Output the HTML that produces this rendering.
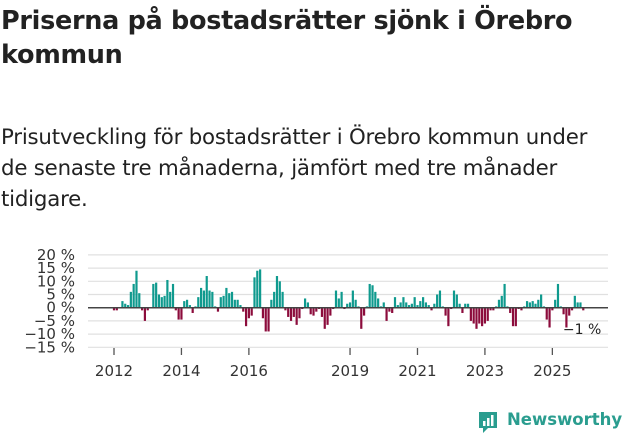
<!DOCTYPE html>
<html><head><meta charset="utf-8"><style>
body{margin:0;background:#fff;width:631px;height:439px;overflow:hidden;font-family:"DejaVu Sans","Liberation Sans",sans-serif;color:#222}
h1{position:absolute;left:1px;top:4px;margin:0;font-size:25.5px;line-height:34px;font-weight:bold;white-space:nowrap;letter-spacing:-0.3px}
p{position:absolute;left:1px;top:122px;margin:0;font-size:21.3px;line-height:31px;white-space:nowrap;letter-spacing:-0.2px}
svg{position:absolute;left:0;top:0}
</style></head><body>
<h1>Priserna på bostadsrätter sjönk i Örebro<br>kommun</h1>
<p>Prisutveckling för bostadsrätter i Örebro kommun under<br>de senaste tre månaderna, jämfört med tre månader<br>tidigare.</p>
<svg id="chart" width="631" height="439"></svg>
<div style="position:absolute;left:476px;top:408px;height:28px">
<svg width="24" height="26" style="position:absolute;left:0;top:1px"><path d="M3 3h18v16H12l-5 5v-5H3z" fill="#2a9d8f"/><rect x="7" y="12" width="2.5" height="5" fill="#fff"/><rect x="11" y="9" width="2.5" height="8" fill="#fff"/><rect x="15" y="6" width="2.5" height="11" fill="#fff"/></svg>
<span style="position:absolute;left:31px;top:2px;font-size:16.5px;font-weight:bold;color:#2a9d8f;white-space:nowrap">Newsworthy</span></div>
<script>
const values=[-1,-1,0,2.5,1.5,1,6,9,14,5.5,-1,-5,-1,0,9,9.5,5,4,4.5,10.5,6,9,-1,-4.5,-4.5,2.5,3,1,-2,0.5,4,7.5,6.5,12,6.5,6,0.5,-1.5,4,4.5,7.5,5.5,6,3,3,1,-1.5,-7,-4,-3,11.5,14,14.5,-4,-9,-9,3,6,12,10,6,-1,-3.5,-5,-3.5,-6.5,-4,-0.5,3.5,2,-2.5,-3,-1.5,-0.5,-3.5,-8,-6.5,-3,-0.5,6.5,3.5,6,-0.5,1.5,2,6.5,3,0.5,-8,-3,0.5,9,8.5,6,3.5,0.5,2,-5,-1.5,-2,4,1,2,4,2,1,1.5,4,1,2.5,4,2,1,-1,1.5,5,6.5,0.5,-3,-7,-0.5,6.5,5,1.5,-2,1.5,1.5,-5,-6,-8,-6,-7,-6,-5,-1,-1,0.5,3,4.5,9,0.5,-2,-7,-7,-0.5,-1,0.5,2.5,2,2.5,1.5,3,5,0.5,-4.5,-7.5,-1,3,9,0.5,-2.5,-7.5,-3,-1,4.5,2,2,-1];
const startYear=2012;
const yTicks=[20,15,10,5,0,-5,-10,-15];
const yTickLabels=["20 %","15 %","10 %","5 %","0 %","−5 %","−10 %","−15 %"];
const xTickYears=[2012,2014,2016,2019,2021,2023,2025];
const lastLabel="−1 %";
const svg=document.getElementById('chart');
const NS='http://www.w3.org/2000/svg';
const y=v=>307.7-v*2.64;
const x=m=>114+m*2.81;
function mk(t,a){const e=document.createElementNS(NS,t);for(const k in a)e.setAttribute(k,a[k]);svg.appendChild(e);return e;}
yTicks.forEach((t,i)=>{
 const l=mk('line',{x1:88,x2:608,y1:y(t),y2:y(t),stroke:'#e0e0e0','stroke-width':1.2});
 
 
 const tx=mk('text',{x:75,y:y(t)+5,'text-anchor':'end','font-size':15,fill:'#333'});
 tx.textContent=yTickLabels[i];
 
 
});
values.forEach((v,i)=>{
 const r=mk('rect',{x:x(i)-1.1,width:2.2,y:Math.min(y(v),y(0)),height:Math.abs(y(v)-y(0)),fill:v>=0?'#0f9a8e':'#8c0c3c'});
 
 
});
const z=mk('line',{x1:88,x2:608,y1:y(0),y2:y(0),stroke:'#444','stroke-width':1.5});


xTickYears.forEach(yr=>{
 const xx=x((yr-startYear)*12);
 const t=mk('line',{x1:xx,x2:xx,y1:348,y2:355,stroke:'#555','stroke-width':1.3});
 
 
 const tx=mk('text',{x:xx,y:376,'text-anchor':'middle','font-size':15,fill:'#333'});
 tx.textContent=yr;
 
 
});
const ll=mk('text',{x:x(values.length-1)+18,y:334,'text-anchor':'end','font-size':14,fill:'#222'});
ll.textContent=lastLabel;


</script>
</body></html>
